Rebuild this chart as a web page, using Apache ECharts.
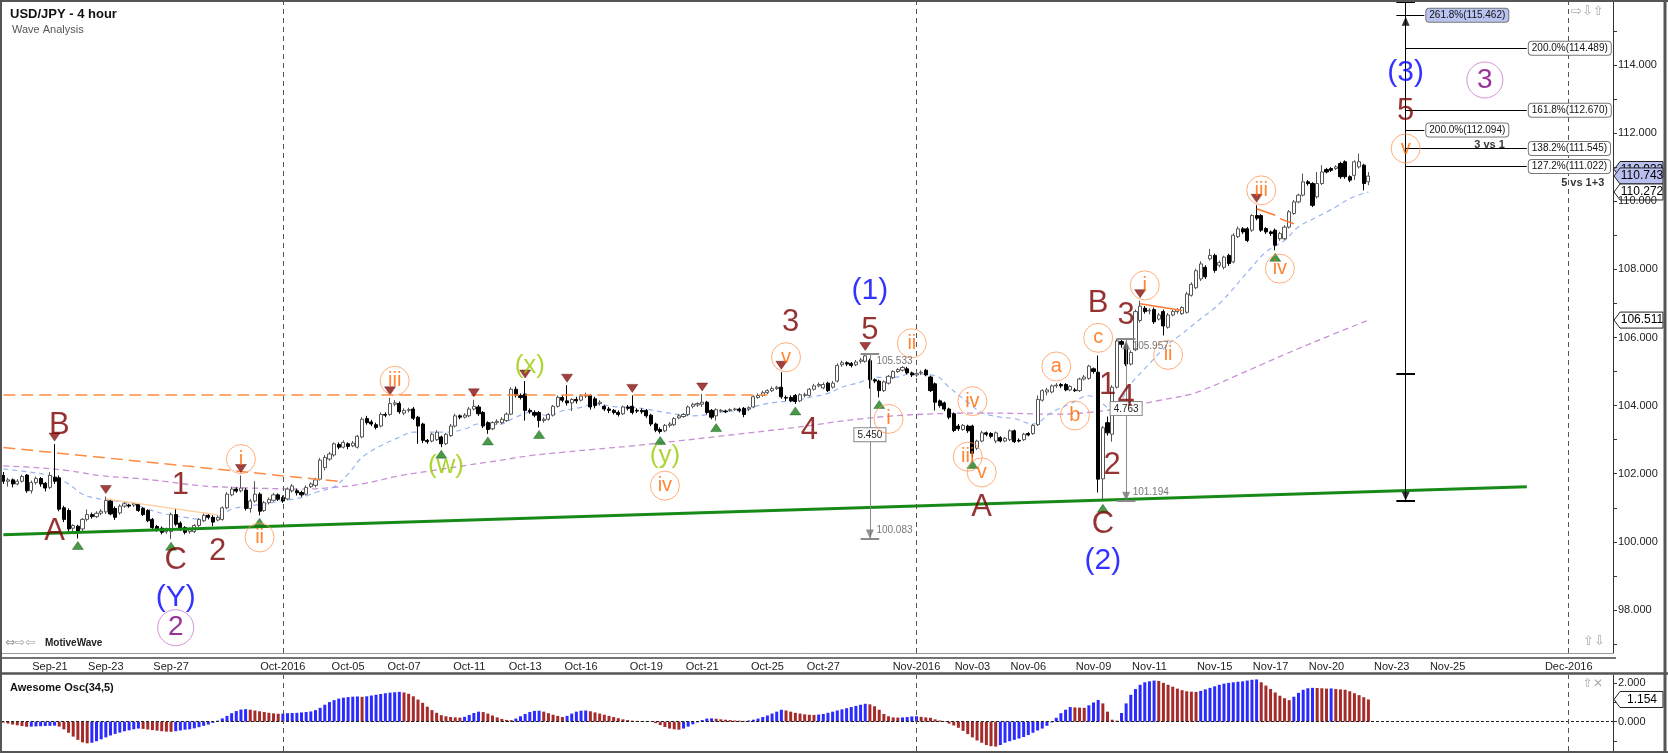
<!DOCTYPE html>
<html><head><meta charset="utf-8">
<script src="https://cdn.jsdelivr.net/npm/echarts@6/dist/echarts.min.js"></script>
<style>html,body{margin:0;padding:0;background:#fff;}#c{width:1668px;height:753px;}</style>
</head><body><div id="c"></div>
<script>
// ---------- DATA ----------
// 4-hour candles [open, close, low, high]
const candles = [
[101.95,101.78,101.70,102.05],[101.78,101.82,101.62,101.88],[101.82,101.70,101.60,101.86],[101.70,101.78,101.66,101.84],[101.78,101.92,101.74,101.97],
[101.96,101.50,101.44,101.99],[101.50,101.74,101.42,101.80],[101.74,101.86,101.68,101.92],[101.86,101.70,101.62,101.90],[101.72,101.58,101.48,101.76],
[101.60,101.95,101.55,102.05],[101.90,101.78,101.70,102.87],[101.88,100.96,100.90,101.95],[101.00,100.66,100.58,101.06],[100.92,100.38,100.30,100.98],
[100.40,100.48,100.30,100.52],[100.46,100.32,100.10,100.50],[100.38,100.66,100.30,100.70],[100.66,100.80,100.60,100.95],[100.80,100.74,100.68,100.86],
[100.74,100.84,100.70,100.90],[100.84,100.90,100.78,100.96],[100.88,101.22,100.82,101.33],[101.20,100.82,100.78,101.26],[100.98,100.72,100.64,101.04],
[100.85,101.05,100.80,101.10],[101.05,101.12,101.00,101.18],[101.08,101.05,101.00,101.12],[101.08,101.12,101.02,101.16],[101.10,100.92,100.88,101.14],
[100.98,100.80,100.76,101.02],[100.92,100.62,100.58,100.96],[100.66,100.42,100.36,100.70],[100.45,100.38,100.30,100.50],[100.40,100.28,100.22,100.45],
[100.30,100.38,100.24,100.42],[100.30,100.80,100.08,100.86],[100.80,100.52,100.46,100.98],[100.55,100.38,100.32,100.60],[100.42,100.28,100.22,100.46],
[100.30,100.36,100.24,100.42],[100.30,100.48,100.26,100.52],[100.48,100.66,100.44,100.70],[100.62,100.78,100.58,100.84],[100.78,100.72,100.66,100.84],
[100.72,100.58,100.46,100.78],[100.64,100.72,100.60,100.78],[100.66,101.00,100.62,101.04],[101.00,101.40,100.96,101.46],[101.38,101.55,101.34,101.62],
[101.55,101.49,101.44,101.60],[101.50,101.58,101.45,101.95],[101.52,100.98,100.92,101.58],[100.98,101.20,100.86,101.26],[101.20,101.40,101.15,101.78],
[101.40,100.90,100.78,101.45],[100.92,101.15,100.88,101.20],[101.15,101.25,101.10,101.30],[101.22,101.38,101.18,101.44],[101.38,101.25,101.20,101.42],
[101.30,101.20,101.15,101.36],[101.26,101.55,101.22,101.60],[101.50,101.64,101.45,101.70],[101.50,101.44,101.36,101.56],[101.45,101.38,101.32,101.50],
[101.40,101.60,101.36,101.66],[101.62,101.70,101.58,101.75],[101.66,101.82,101.60,101.88],[101.84,102.40,101.80,102.46],[102.18,102.48,102.10,102.55],
[102.43,102.58,102.38,102.64],[102.55,102.88,102.50,102.92],[102.86,102.78,102.72,102.92],[102.78,102.92,102.74,102.98],[102.88,102.80,102.72,102.92],
[102.82,102.90,102.78,102.96],[102.78,103.10,102.74,103.14],[103.08,103.60,103.04,103.66],[103.62,103.50,103.44,103.70],[103.52,103.46,103.40,103.58],
[103.44,103.36,103.30,103.50],[103.40,103.74,103.36,103.80],[103.74,103.72,103.66,103.80],[103.74,104.06,103.70,104.23],[104.04,104.08,103.98,104.16],
[104.06,103.82,103.76,104.12],[103.78,103.86,103.72,103.92],[103.86,103.88,103.80,103.94],[103.90,103.63,103.58,103.96],[103.66,103.40,102.88,103.70],
[103.46,102.98,102.90,103.50],[102.98,102.94,102.88,103.02],[102.96,103.16,102.92,103.20],[103.00,103.22,102.96,103.28],[103.08,102.88,102.78,103.12],
[102.88,103.16,102.84,103.20],[103.12,103.40,103.08,103.46],[103.40,103.70,103.36,103.76],[103.70,103.66,103.60,103.74],[103.66,103.72,103.62,103.78],
[103.70,103.90,103.66,103.96],[103.90,103.98,103.86,104.17],[103.96,103.76,103.70,104.02],[103.80,103.40,103.34,103.84],[103.50,103.30,103.17,103.54],
[103.32,103.50,103.28,103.54],[103.50,103.54,103.44,103.60],[103.50,103.60,103.46,103.66],[103.56,103.75,103.52,103.80],[103.75,104.48,103.72,104.54],
[104.48,104.30,104.24,104.56],[104.30,104.24,104.18,104.36],[104.34,103.86,103.56,104.72],[103.86,103.82,103.76,103.92],[103.80,103.72,103.66,103.86],
[103.80,103.56,103.36,103.84],[103.56,103.60,103.50,103.66],[103.60,103.74,103.56,103.78],[103.72,103.98,103.68,104.02],[103.98,104.24,103.94,104.30],
[104.24,104.16,104.10,104.30],[104.14,104.08,104.00,104.60],[104.08,104.18,103.84,104.22],[104.18,104.14,104.06,104.26],[104.16,104.28,104.12,104.34],
[104.28,104.30,104.22,104.38],[104.30,103.96,103.88,104.34],[104.20,104.00,103.92,104.26],[104.06,104.10,104.00,104.16],[103.98,103.90,103.84,104.02],
[103.90,103.86,103.78,103.96],[103.86,103.80,103.74,103.90],[103.80,103.74,103.68,103.86],[103.76,103.96,103.72,104.00],[103.96,103.92,103.86,104.02],
[103.98,103.80,103.74,104.30],[103.86,103.84,103.78,103.92],[103.86,103.82,103.76,103.92],[103.86,103.70,103.64,103.90],[103.72,103.46,103.40,103.76],
[103.46,103.28,103.22,103.50],[103.30,103.24,103.18,103.36],[103.26,103.42,103.22,103.46],[103.42,103.46,103.36,103.52],[103.44,103.62,103.40,103.66],
[103.64,103.70,103.60,103.76],[103.68,103.74,103.64,103.78],[103.74,103.96,103.70,104.00],[103.98,104.04,103.92,104.08],[104.02,104.06,103.96,104.10],
[104.04,104.10,103.96,104.34],[104.10,103.80,103.74,104.14],[103.86,103.66,103.60,103.90],[103.70,103.88,103.56,103.92],[103.84,103.86,103.80,103.90],
[103.84,103.82,103.78,103.88],[103.86,103.88,103.82,103.92],[103.88,103.90,103.84,103.94],[103.90,103.86,103.80,103.94],[103.92,103.74,103.66,103.96],
[103.90,103.94,103.84,103.98],[103.96,104.26,103.92,104.30],[104.24,104.30,104.20,104.36],[104.30,104.38,104.26,104.44],[104.38,104.44,104.34,104.48],
[104.44,104.50,104.40,104.56],[104.50,104.54,104.46,104.58],[104.54,104.26,104.20,104.98],[104.24,104.22,104.14,104.30],[104.24,104.14,104.10,104.30],
[104.30,104.12,104.05,104.34],[104.14,104.32,104.10,104.36],[104.30,104.32,104.24,104.38],[104.30,104.48,104.26,104.52],[104.48,104.58,104.44,104.64],
[104.58,104.62,104.54,104.68],[104.52,104.62,104.48,104.68],[104.66,104.44,104.40,104.70],[104.54,104.66,104.50,104.72],[104.72,105.18,104.68,105.24],
[105.20,105.26,105.14,105.32],[105.26,105.22,105.16,105.30],[105.24,105.18,105.12,105.28],[105.20,105.28,105.16,105.34],[105.30,105.34,105.24,105.40],
[105.30,105.46,105.26,105.53],[105.32,104.76,104.50,105.38],[104.76,104.72,104.66,104.80],[104.72,104.44,104.24,104.76],[104.44,104.70,104.40,104.74],
[104.66,104.86,104.62,104.90],[104.82,105.00,104.78,105.04],[105.00,105.06,104.96,105.10],[105.04,105.12,105.00,105.16],[105.08,104.96,104.92,105.14],
[104.96,104.90,104.84,105.00],[104.90,104.94,104.84,104.98],[104.96,104.98,104.90,105.04],[105.04,104.90,104.86,105.08],[104.84,104.44,104.40,104.88],
[104.64,104.10,103.86,104.68],[104.14,104.00,103.94,104.18],[104.08,103.90,103.84,104.12],[103.90,103.66,103.60,103.94],[103.76,103.27,103.22,103.80],
[103.40,103.32,103.26,103.46],[103.30,103.42,103.26,103.46],[103.40,103.26,103.20,103.44],[103.40,102.60,102.48,103.44],[102.75,102.96,102.70,103.00],
[102.96,103.20,102.92,103.26],[103.20,103.16,103.10,103.24],[103.18,103.10,103.04,103.22],[102.96,103.20,102.90,103.24],[103.06,102.96,102.92,103.10],
[102.96,103.04,102.92,103.08],[103.00,103.26,102.96,103.30],[103.26,102.94,102.90,103.30],[102.98,102.96,102.92,103.04],[103.00,103.16,102.96,103.20],
[103.18,103.14,103.10,103.22],[103.18,103.42,103.14,103.46],[103.44,104.18,103.40,104.30],[104.16,104.44,104.12,104.48],[104.40,104.46,104.30,104.52],
[104.40,104.58,104.36,104.62],[104.58,104.60,104.52,104.66],[104.62,104.58,104.52,104.66],[104.62,104.46,104.42,104.66],[104.46,104.56,104.42,104.60],
[104.46,104.44,104.40,104.52],[104.44,104.78,104.40,104.82],[104.78,104.84,104.74,104.90],[104.80,105.16,104.76,105.20],[105.08,105.00,104.94,105.12],
[104.98,101.84,101.45,105.47],[101.85,103.35,101.19,103.40],[103.50,103.20,103.12,103.68],[103.16,104.54,102.94,104.60],[104.54,105.90,104.50,105.96],
[105.88,105.80,105.70,105.96],[105.76,105.22,105.16,105.82],[105.22,105.56,105.18,105.62],[105.64,106.76,105.60,106.82],[106.50,106.92,106.44,107.08],
[106.86,106.76,106.70,106.92],[106.78,106.80,106.68,106.86],[106.82,106.46,106.40,106.88],[106.54,106.66,106.50,106.72],[106.76,106.34,106.06,106.82],
[106.30,106.66,106.26,106.72],[106.66,106.76,106.62,106.82],[106.76,106.82,106.70,106.86],[106.70,106.88,106.66,106.92],[106.74,107.28,106.70,107.34],
[107.24,107.56,107.20,107.62],[107.46,107.96,107.42,108.02],[107.72,108.16,107.66,108.24],[108.06,107.78,107.72,108.12],[108.31,108.41,108.26,108.60],
[108.41,107.97,107.90,108.46],[108.12,108.20,108.06,108.26],[108.06,108.36,108.00,108.40],[108.41,108.17,108.10,108.46],[108.22,109.00,108.18,109.06],
[108.96,109.19,108.92,109.26],[109.19,109.10,109.04,109.24],[109.19,108.85,108.80,109.24],[109.15,109.58,109.10,109.62],[109.58,109.50,109.44,109.88],
[109.58,109.15,109.10,109.62],[109.20,109.10,109.04,109.24],[109.10,109.05,108.98,109.14],[109.15,108.71,108.56,109.20],[108.90,109.05,108.84,109.10],
[108.90,109.24,108.86,109.30],[109.24,109.69,109.20,109.74],[109.64,109.98,109.60,110.04],[109.98,110.18,109.94,110.22],[110.18,110.57,110.14,110.81],
[110.57,110.52,110.46,110.62],[110.52,109.88,109.83,110.56],[110.13,110.52,110.08,110.86],[110.52,110.86,110.48,111.06],[110.93,110.86,110.82,110.98],
[110.96,110.91,110.86,111.00],[110.96,111.01,110.92,111.06],[111.11,110.72,110.66,111.16],[111.16,110.72,110.66,111.20],[110.72,110.62,110.56,110.76],
[110.76,111.16,110.62,111.20],[111.01,111.16,110.96,111.40],[111.06,110.52,110.32,111.10],[110.57,110.74,110.47,110.86]
];
// Awesome Oscillator (34,5) values per bar
const aoValues = [
-0.05,-0.10,-0.15,-0.19,-0.23,-0.27,-0.26,-0.25,-0.24,-0.23,
-0.22,-0.21,-0.26,-0.40,-0.58,-0.78,-0.95,-1.08,-1.13,-1.10,
-1.02,-0.92,-0.82,-0.72,-0.64,-0.57,-0.50,-0.45,-0.40,-0.36,
-0.38,-0.41,-0.44,-0.47,-0.50,-0.52,-0.53,-0.50,-0.46,-0.42,
-0.40,-0.35,-0.29,-0.22,-0.15,-0.06,0.05,0.17,0.30,0.44,
0.55,0.63,0.65,0.62,0.58,0.54,0.50,0.46,0.43,0.41,
0.42,0.44,0.45,0.46,0.48,0.50,0.53,0.60,0.72,0.88,
1.02,1.12,1.20,1.25,1.28,1.30,1.31,1.29,1.32,1.36,
1.40,1.44,1.48,1.51,1.53,1.55,1.52,1.45,1.32,1.15,
0.98,0.78,0.60,0.46,0.34,0.28,0.24,0.22,0.21,0.25,
0.35,0.45,0.52,0.50,0.42,0.32,0.22,0.14,0.09,0.08,
0.16,0.28,0.40,0.50,0.56,0.57,0.52,0.44,0.36,0.30,
0.24,0.30,0.42,0.52,0.57,0.58,0.54,0.48,0.42,0.36,
0.30,0.24,0.18,0.12,0.08,0.05,0.04,0.03,0.02,0.01,
-0.08,-0.18,-0.28,-0.36,-0.40,-0.42,-0.36,-0.26,-0.14,-0.04,
0.08,0.16,0.17,0.15,0.12,0.10,0.08,0.06,0.05,0.04,
0.06,0.10,0.16,0.24,0.32,0.42,0.52,0.62,0.58,0.52,
0.46,0.42,0.38,0.36,0.35,0.37,0.40,0.46,0.52,0.58,
0.64,0.70,0.76,0.82,0.88,0.93,0.90,0.80,0.62,0.40,
0.28,0.22,0.21,0.22,0.24,0.27,0.28,0.25,0.22,0.20,
0.12,0.06,-0.02,-0.10,-0.20,-0.32,-0.48,-0.65,-0.82,-0.98,
-1.10,-1.22,-1.28,-1.30,-1.22,-1.10,-1.02,-0.95,-0.88,-0.80,
-0.70,-0.58,-0.46,-0.36,-0.22,-0.04,0.20,0.44,0.62,0.76,
0.74,0.73,0.72,0.85,1.00,1.13,0.95,0.52,0.10,0.05,
0.45,0.95,1.40,1.70,1.92,2.05,2.10,2.14,2.12,2.02,
1.92,1.82,1.72,1.64,1.58,1.56,1.55,1.60,1.68,1.76,
1.84,1.92,1.98,2.02,2.05,2.08,2.10,2.14,2.18,2.20,
2.05,1.88,1.70,1.52,1.35,1.22,1.12,1.30,1.50,1.66,
1.74,1.76,1.75,1.74,1.72,1.73,1.70,1.68,1.66,1.58,
1.48,1.38,1.27,1.154
];
// moving averages [barIndex, value]
const maFast = [[0,102.14],[6,102.04],[10,101.94],[14,101.70],[17,101.40],[21,101.25],[24,101.20],[28,101.11],[31,100.96],[35,100.81],[39,100.72],[42,100.67],[46,100.74],[49,100.96],[53,101.06],[56,101.11],[60,101.21],[64,101.30],[67,101.45],[71,101.62],[74,101.99],[77,102.48],[81,102.82],[85,103.07],[88,103.22],[92,103.22],[95,103.22],[99,103.31],[102,103.46],[106,103.44],[110,103.66],[113,103.80],[117,103.71],[120,103.85],[124,103.95],[127,104.05],[131,103.97],[135,103.95],[138,103.90],[142,103.80],[148,103.70],[152,103.75],[155,103.83],[159,103.85],[162,104.00],[166,104.10],[170,104.15],[173,104.24],[177,104.36],[180,104.54],[184,104.69],[187,104.83],[191,104.83],[195,104.93],[200,104.88],[203,104.54],[207,104.10],[210,103.80],[214,103.66],[217,103.62],[221,103.46],[225,103.80],[229,104.05],[233,104.29],[238,103.90],[242,104.64],[246,105.23],[250,105.80],[253,106.11],[257,106.55],[261,106.99],[268,108.07],[271,108.51],[275,108.85],[278,109.25],[282,109.54],[286,109.83],[289,110.08],[293,110.27]];
const maSlow = [[0,102.23],[6,102.19],[14,102.09],[21,101.94],[28,101.87],[35,101.77],[42,101.65],[49,101.60],[56,101.57],[64,101.55],[71,101.60],[77,101.70],[85,101.94],[92,102.09],[99,102.24],[106,102.38],[113,102.53],[120,102.63],[127,102.72],[135,102.82],[142,102.92],[155,103.12],[170,103.36],[184,103.61],[198,103.75],[212,103.78],[226,103.75],[233,103.80],[241,103.95],[248,104.15],[255,104.34],[259,104.54],[265,104.90],[270,105.20],[275,105.50],[283,105.96],[293,106.51]];
// date axis ticks
const dateTicks = [["2016-09-21","Sep-21"],["2016-09-23","Sep-23"],["2016-09-27","Sep-27"],["2016-10-02","Oct-2016"],["2016-10-05","Oct-05"],["2016-10-07","Oct-07"],["2016-10-11","Oct-11"],["2016-10-13","Oct-13"],["2016-10-16","Oct-16"],["2016-10-19","Oct-19"],["2016-10-21","Oct-21"],["2016-10-25","Oct-25"],["2016-10-27","Oct-27"],["2016-11-01","Nov-2016"],["2016-11-03","Nov-03"],["2016-11-06","Nov-06"],["2016-11-09","Nov-09"],["2016-11-11","Nov-11"],["2016-11-15","Nov-15"],["2016-11-17","Nov-17"],["2016-11-20","Nov-20"],["2016-11-23","Nov-23"],["2016-11-25","Nov-25"],["2016-12-01","Dec-2016"]];
const monthStarts = ["2016-10-02","2016-11-01","2016-12-01"];
const priceTicks = [98,100,102,104,106,108,110,112,114];
const priceMinorTicks = [97,98,99,100,101,102,103,104,105,106,107,108,109,110,111,112,113,114,115];
const aoTicks = [0,2];
// wave labels [barIndex, price, text]
const waveDarkRed = [[12,103.41,'B'],[11,100.32,'A'],[38,101.65,'1'],[37,99.44,'C'],[46,99.73,'2'],[169,106.45,'3'],[173,103.27,'4'],[186,106.21,'5'],[210,101.01,'A'],[235,106.99,'B'],[237,104.59,'1'],[241,104.25,'4'],[241,106.65,'3'],[238,102.24,'2'],[236,100.52,'C'],[301,112.63,'5']];
const waveBlue = [[37,98.36,'(Y)'],[186,107.38,'(1)'],[236,99.44,'(2)'],[301,113.76,'(3)']];
const wavePurple = [[37,97.48,'2'],[318,113.56,'3']];
const waveGreen = [[95,102.24,'(w)'],[113,105.18,'(x)'],[142,102.53,'(y)']];
const waveOrange = [[51,102.43,'i'],[55,100.13,'ii'],[84,104.73,'iii'],[142,101.65,'iv'],[168,105.42,'v'],[190,103.61,'i'],[195,105.83,'ii'],[208,104.13,'iv'],[207,102.50,'iii'],[210,102.04,'v'],[226,105.15,'a'],[230,103.71,'b'],[235,105.99,'c'],[245,107.53,'i'],[250,105.49,'ii'],[270,110.32,'iii'],[274,108.02,'iv'],[301,111.55,'v']];
const pivotHighs = [11,22,51,83,101,112,121,135,150,167,185,244,269];
const pivotLows = [16,36,55,94,104,115,141,153,170,188,208,236,273];
// trend lines [[i1,p1],[i2,p2]]
const greenTrend = [[0,100.21],[327,101.62]];
const orangeHoriz = [[0,104.32],[164,104.32]];
const orangeDesc = [[0,102.77],[73,101.76]];
const peachLine = [[22,101.26],[46,100.79]];
const orangeShort = [[[244,106.99],[253,106.79]],[[269,109.78],[273,109.59]],[[274,109.49],[277,109.34]]];
// fibonacci levels [pct, value, fromBar, toBar, fill]
const fibLevels = [['261.8%',115.462,299,305,'#b9c3f0'],['200.0%',114.489,301,327,'#ffffff'],['161.8%',112.670,301,327,'#ffffff'],['200.0%',112.094,301,305,'#ffffff'],['138.2%',111.545,301,327,'#ffffff'],['127.2%',111.022,301,327,'#ffffff']];
const fibBar = 301, fibBottom = 101.194, fibTop = 115.85, fibMid = 104.95;
// measurement tools [bar, top, bottom, diff, labelPrice]
const measures = [[186,105.533,100.083,'5.450',102.80],[241,105.957,101.194,'4.763',103.54]];
const priceTags = [[110.932,'110.932','#b9c0f0'],[110.743,'110.743','#b9c0f0'],[110.272,'110.272','#ffffff'],[106.511,'106.511','#ffffff']];
const aoTag = [1.154,'1.154'];

// ---------- CATEGORIES (4h bars, Sunday 2 bars, no Saturday) ----------
const NBARS = 346;
const categories = [];
(function(){
  let t = Date.UTC(2016,8,19);
  let first = true;
  const p2 = n => (n<10?'0':'')+n;
  while (categories.length < NBARS) {
    const d = new Date(t), wd = d.getUTCDay();
    let hours = wd===6 ? [] : (wd===0 ? [16,20] : [0,4,8,12,16,20]);
    if (first) { hours = [8,12,16,20]; first = false; }
    for (const h of hours) if (categories.length < NBARS)
      categories.push(d.getUTCFullYear()+'-'+p2(d.getUTCMonth()+1)+'-'+p2(d.getUTCDate())+' '+p2(h)+':00');
    t += 86400000;
  }
})();
const idxOf = ds => categories.findIndex(c => c.indexOf(ds) === 0);
const tickMap = new Map(dateTicks.map(d => [idxOf(d[0]), d[1]]));
const monthIdx = monthStarts.map(idxOf);

const FONT = '"Liberation Sans", Arial, sans-serif';
const chart = echarts.init(document.getElementById('c'));

function textSeries(items, color, size, circle) {
  return {
    type:'scatter', xAxisIndex:0, yAxisIndex:0, silent:true, z:6,
    symbol: 'circle',
    symbolSize: circle ? circle.size : 1,
    itemStyle: circle ? {color:'rgba(0,0,0,0)', borderColor:circle.stroke, borderWidth:1} : {color:'rgba(0,0,0,0)'},
    data: items.map(t => ({value:[t[0], t[1]], label:{formatter:t[2]}})),
    label: {show:true, position:'inside', color, fontSize:size, fontFamily:FONT}
  };
}
const mlBase = {silent:true, symbol:['none','none'], animation:false, label:{show:false}};
const seg = (a, b, style) => [{coord:a, lineStyle:style}, {coord:b}];

const fibLines = [];
fibLevels.forEach(f => {
  fibLines.push([{coord:[f[2], f[1]], lineStyle:{color:'#000', width:1, type:'solid'},
    label:{show:true, position:'end', distance:2, formatter:f[0]+'('+f[1].toFixed(3)+')', fontSize:10, fontFamily:FONT, color:'#111',
      backgroundColor:f[4], borderColor:'#777', borderWidth:1, borderRadius:3, padding:[2,3,1,3]}},
    {coord:[f[3], f[1]]}]);
});
const blk = {color:'#000', width:1, type:'solid'};
fibLines.push(seg([fibBar, fibBottom],[fibBar, fibTop], blk));
fibLines.push(seg([fibBar-2, fibTop],[fibBar+2, fibTop], {color:'#000', width:2, type:'solid'}));
fibLines.push(seg([fibBar-2, fibBottom],[fibBar+2, fibBottom], {color:'#000', width:2, type:'solid'}));
fibLines.push(seg([fibBar-2, fibMid],[fibBar+2, fibMid], {color:'#000', width:2, type:'solid'}));

const measureLines = [];
const gr = {color:'#8a8a8a', width:1, type:'solid'};
const grThick = {color:'#8a8a8a', width:2, type:'solid'};
measures.forEach(m => {
  measureLines.push([{coord:[m[0], m[1]], lineStyle:gr,
    label:{show:true, position:'middle', formatter:m[3], fontSize:10, fontFamily:FONT, color:'#222', backgroundColor:'#fff', borderColor:'#888', borderWidth:1, padding:[2,3,1,3], rotate:0}},
    {coord:[m[0], m[2]]}]);
  measureLines.push(seg([m[0]-2, m[1]],[m[0]+2, m[1]], grThick));
  measureLines.push(seg([m[0]-2, m[2]],[m[0]+2, m[2]], grThick));
});

const trendLines = [
  seg(greenTrend[0], greenTrend[1], {color:'#178a17', width:3, type:'solid'}),
  seg(orangeHoriz[0], orangeHoriz[1], {color:'#ff8c42', width:1.5, type:[12,6]}),
  seg(orangeDesc[0], orangeDesc[1], {color:'#ff8c42', width:1.5, type:[12,6]}),
  seg(peachLine[0], peachLine[1], {color:'#ffcc99', width:1.2, type:'solid'})
].concat(orangeShort.map(s => seg(s[0], s[1], {color:'#ff7a30', width:1.5, type:'solid'})));

const monthLinesMain = monthIdx.map(i => ({xAxis:i, lineStyle:{color:'#555', width:1, type:[5,4]}}));

const aoRed = '#a52a2a', aoBlue = '#2b2bff';
const aoData = aoValues.map((v,i) => ({value:v, itemStyle:{color: (i===0 || v < aoValues[i-1]) ? aoRed : aoBlue}}));

const option = {
  animation:false,
  textStyle:{fontFamily:FONT},
  grid:[
    {left:1, right:55, top:1, height:652, containLabel:false, outerBoundsMode:'none'},
    {left:1, right:55, top:675, height:76, containLabel:false, outerBoundsMode:'none'}
  ],
  xAxis:[
    {type:'category', gridIndex:0, data:categories, boundaryGap:true,
     axisLine:{lineStyle:{color:'#999', width:1}},
     axisTick:{alignWithLabel:true, interval:(i)=>tickMap.has(i), length:5, lineStyle:{color:'#333'}},
     axisLabel:{interval:(i)=>tickMap.has(i), formatter:(v,i)=>tickMap.get(i)||'', fontSize:11, color:'#222', margin:8, fontFamily:FONT},
     splitLine:{show:false}},
    {type:'category', gridIndex:1, data:categories, boundaryGap:true, show:false}
  ],
  yAxis:[
    {type:'value', gridIndex:0, position:'right', min:96.737, max:115.879,
     axisLine:{show:true, lineStyle:{color:'#333'}},
     axisTick:{show:true, length:4, customValues:priceMinorTicks, lineStyle:{color:'#333'}},
     axisLabel:{customValues:priceTicks, formatter:v=>v.toFixed(3), fontSize:11, color:'#222', margin:5, fontFamily:FONT},
     splitLine:{show:false}},
    {type:'value', gridIndex:1, position:'right', min:-1.53, max:2.43,
     axisLine:{show:true, lineStyle:{color:'#333'}},
     axisTick:{show:true, length:4, customValues:[-1,0,1,2], lineStyle:{color:'#333'}},
     axisLabel:{customValues:aoTicks, formatter:v=>v.toFixed(3), fontSize:11, color:'#222', margin:5, fontFamily:FONT},
     splitLine:{show:false}}
  ],
  series:[
    {type:'line', name:'maSlow', xAxisIndex:0, yAxisIndex:0, data:maSlow, smooth:0.4, symbol:'none', z:1,
     lineStyle:{color:'#c990d6', width:1.3, type:[6,4]},
     markLine:Object.assign({}, mlBase, {data:trendLines})},
    {type:'line', name:'maFast', xAxisIndex:0, yAxisIndex:0, data:maFast, smooth:0.4, symbol:'none', z:1,
     lineStyle:{color:'#98b4f0', width:1.2, type:[5,4]},
     markLine:Object.assign({}, mlBase, {data:fibLines.concat(measureLines)})},
    {type:'candlestick', xAxisIndex:0, yAxisIndex:0, data:candles, barWidth:3.6, z:3,
     itemStyle:{color:'#ffffff', color0:'#000000', borderColor:'#555555', borderColor0:'#000000', borderWidth:1},
     markLine:Object.assign({}, mlBase, {data:monthLinesMain})},
    {type:'scatter', xAxisIndex:0, yAxisIndex:0, silent:true, z:5, symbol:'triangle', symbolRotate:180, symbolSize:[11,8], symbolOffset:[0,-7],
     itemStyle:{color:'#8b1010', borderColor:'#5a0000', borderWidth:0.5},
     data:pivotHighs.map(i => [i, candles[i][3]])},
    {type:'scatter', xAxisIndex:0, yAxisIndex:0, silent:true, z:5, symbol:'triangle', symbolSize:[11,8], symbolOffset:[0,7],
     itemStyle:{color:'#1a801a', borderColor:'#0a4a0a', borderWidth:0.5},
     data:pivotLows.map(i => [i, candles[i][2]])},
    {type:'scatter', xAxisIndex:0, yAxisIndex:0, silent:true, z:5, symbol:'triangle', symbolSize:[8,9], symbolOffset:[0,6],
     itemStyle:{color:'#000'}, data:[[fibBar, fibLevels[0][1]]]},
    {type:'scatter', xAxisIndex:0, yAxisIndex:0, silent:true, z:5, symbol:'triangle', symbolRotate:180, symbolSize:[8,9], symbolOffset:[0,-5],
     itemStyle:{color:'#000'}, data:[[fibBar, fibBottom]]},
    {type:'scatter', xAxisIndex:0, yAxisIndex:0, silent:true, z:5, symbol:'triangle', symbolRotate:180, symbolSize:[8,9], symbolOffset:[0,-5],
     itemStyle:{color:'#777'}, data:measures.map(m => [m[0], m[2]])},
    {type:'scatter', xAxisIndex:0, yAxisIndex:0, silent:true, z:5, symbol:'triangle', symbolSize:[8,9], symbolOffset:[0,6],
     itemStyle:{color:'#777'}, data:[[measures[1][0], measures[1][1]]]},
    {type:'scatter', xAxisIndex:0, yAxisIndex:0, silent:true, z:6, symbolSize:1, itemStyle:{color:'rgba(0,0,0,0)'},
     data:measures.map(m => ({value:[m[0], m[1]-0.22], label:{formatter:m[1].toFixed(3)}}))
       .concat(measures.map(m => ({value:[m[0], m[2]+0.25], label:{formatter:m[2].toFixed(3)}}))),
     label:{show:true, position:'right', distance:6, fontSize:10, color:'#555', fontFamily:FONT}},
    {type:'scatter', xAxisIndex:0, yAxisIndex:0, silent:true, z:6, symbolSize:1, itemStyle:{color:'rgba(0,0,0,0)'},
     data:[{value:[319,111.66], label:{formatter:'3 vs 1'}},{value:[339,110.54], label:{formatter:'5 vs 1+3'}}],
     label:{show:true, position:'inside', fontSize:11, fontWeight:'bold', color:'#000', fontFamily:FONT}},
    textSeries(waveDarkRed, '#7a0000', 31),
    textSeries(waveBlue, '#0000ff', 30),
    textSeries(waveGreen, '#99cc00', 26),
    textSeries(wavePurple, '#800080', 28, {size:36, stroke:'#c77ac7'}),
    textSeries(waveOrange, '#ff6600', 20, {size:29, stroke:'#ff9a5a'}),
    {type:'bar', xAxisIndex:1, yAxisIndex:1, data:aoData, barWidth:3, z:3,
     markLine:Object.assign({}, mlBase, {data:[{yAxis:0, lineStyle:{color:'#222', width:1, type:[3,2]}}].concat(monthIdx.map(i => ({xAxis:i, lineStyle:{color:'#555', width:1, type:[5,4]}})))})}
  ]
};
chart.setOption(option);

// ---------- overlays: frame, titles, axis tags ----------
function tag(y, txt, fill) {
  const x = 1614;
  return {type:'group', z:100, children:[
    {type:'polygon', shape:{points:[[x,y],[x+6,y-8],[x+49,y-8],[x+49,y+8],[x+6,y+8]]}, style:{fill, stroke:'#222', lineWidth:1}},
    {type:'text', x:x+28, y:y, style:{text:txt, font:'12px '+FONT, fill:'#000', align:'center', verticalAlign:'middle', textAlign:'center', textVerticalAlign:'middle'}}
  ]};
}
const txt = (x, y, s, font, fill) => ({type:'text', x, y, z:100, style:{text:s, font, fill, verticalAlign:'middle', textVerticalAlign:'middle'}});
const line = (x1,y1,x2,y2,stroke,w) => ({type:'line', z:90, shape:{x1,y1,x2,y2}, style:{stroke, lineWidth:w}});
const graphics = [
  line(0,658,1616,658,'#444',1.5),
  line(0,673.5,1668,673.5,'#555',2.5),
  line(1,0,1,753,'#555',2),
  line(0,1,1668,1,'#555',2),
  line(1665,0,1665,753,'#555',3),
  line(0,752,1668,752,'#555',2),
  txt(10,14,'USD/JPY - 4 hour','bold 13px '+FONT,'#111'),
  txt(12,30,'Wave Analysis','11px '+FONT,'#555'),
  txt(5,643,'\u21D4\u21E8\u21E6','12px "DejaVu Sans"','#999'),
  txt(45,643,'MotiveWave','bold 10px '+FONT,'#222'),
  txt(10,688,'Awesome Osc(34,5)','bold 11px '+FONT,'#111'),
  txt(1571,12,'\u21E8\u21E9\u21E7','13px "DejaVu Sans"','#aaa'),
  txt(1583,642,'\u21E7\u21E9','13px "DejaVu Sans"','#aaa'),
  txt(1583,684,'\u21E7\u2715','12px "DejaVu Sans"','#aaa')
];
priceTags.forEach(t => graphics.push(tag(chart.convertToPixel({yAxisIndex:0}, t[0]), t[1], t[2])));
graphics.push(tag(chart.convertToPixel({yAxisIndex:1}, aoTag[0]), aoTag[1], '#ffffff'));
chart.setOption({graphic:graphics});
</script>
</body></html>
